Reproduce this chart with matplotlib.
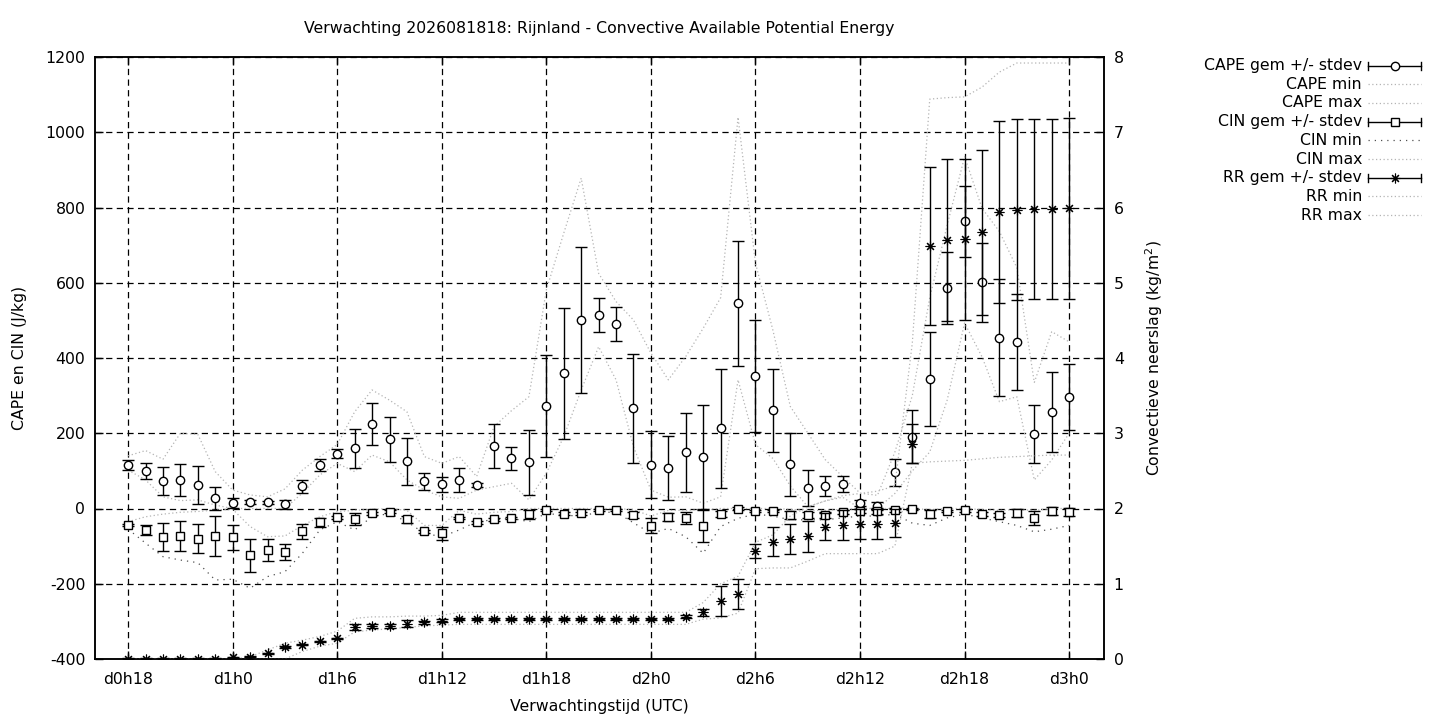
import matplotlib
matplotlib.use('Agg')
import matplotlib.pyplot as plt
from matplotlib.lines import Line2D

# uren na de start van de run (d0h18 .. d3h0)
hours = list(range(18, 73))
tick_hours = [18, 24, 30, 36, 42, 48, 54, 60, 66, 72]
tick_labels = ['d0h18', 'd1h0', 'd1h6', 'd1h12', 'd1h18', 'd2h0', 'd2h6', 'd2h12', 'd2h18', 'd3h0']

cape_mean = [115, 100, 73, 76, 62, 27, 14, 18, 16, 11, 59, 116, 145, 160, 224, 184, 125, 72, 64, 76,
             62, 166, 133, 123, 272, 359, 501, 514, 490, 266, 116, 107, 149, 136, 213, 545, 352, 261,
             117, 54, 60, 65, 14, 7, 96, 191, 343, 586, 763, 601, 454, 442, 198, 257, 296]
cape_std = [13, 21, 38, 43, 50, 30, 13, 5, 5, 11, 18, 16, 12, 52, 56, 60, 62, 23, 21, 32,
            6, 58, 30, 86, 136, 175, 195, 46, 45, 145, 89, 85, 106, 139, 158, 166, 150, 110,
            84, 47, 26, 21, 8, 10, 35, 70, 125, 96, 94, 105, 156, 127, 78, 106, 88]
cape_min = [102, 76, 31, 21, 23, 9, 0, 0, 0, 0, 41, 89, 120, 98, 142, 124, 76, 49, 31, 27,
            49, 58, 67, 23, 94, 191, 315, 430, 342, 164, 49, 30, 31, 14, 31, 342, 170, 133,
            60, 5, 20, 30, 0, 0, 40, 100, 150, 288, 493, 403, 284, 297, 76, 129, 200]
cape_max = [140, 154, 131, 200, 197, 98, 49, 36, 31, 52, 102, 138, 170, 257, 315, 288, 257, 138, 120, 138,
            85, 218, 260, 297, 581, 732, 878, 625, 550, 501, 413, 342, 404, 479, 560, 1040, 652, 474,
            271, 201, 130, 85, 41, 35, 150, 300, 560, 753, 935, 798, 736, 640, 335, 470, 443]

cin_mean = [-44, -57, -76, -73, -80, -73, -77, -124, -110, -116, -60, -36, -23, -29, -13, -8, -29, -60, -66, -26,
            -37, -29, -26, -15, -4, -14, -13, -4, -4, -17, -46, -23, -25, -46, -15, 0, -7, -7,
            -17, -17, -17, -10, -7, -7, -3, -1, -15, -7, -5, -14, -17, -12, -25, -7, -9]
cin_std = [3, 13, 38, 39, 38, 54, 33, 44, 30, 22, 20, 12, 4, 16, 3, 3, 10, 4, 18, 3,
           3, 3, 3, 12, 3, 4, 3, 3, 3, 8, 20, 11, 16, 44, 8, 3, 3, 3,
           10, 8, 8, 5, 6, 8, 5, 3, 10, 3, 3, 5, 5, 10, 18, 10, 10]
cin_min = [-55, -92, -128, -137, -144, -190, -188, -212, -181, -168, -119, -57, -35, -57, -22, -13, -35, -66, -75, -57,
           -35, -30, -26, -35, -13, -18, -20, -10, -10, -38, -66, -53, -75, -119, -48, -26, -15, -20,
           -30, -30, -30, -25, -20, -20, -15, -39, -45, -25, -15, -25, -35, -45, -62, -55, -45]
cin_max = [-35, -22, -15, -10, -8, -4, -2, -48, -75, -73, -45, -22, -8, -5, -2, 0, -5, -45, -45, -5,
           -15, -10, -8, 0, 0, 0, 0, 0, 0, -3, -20, -5, -5, -3, 0, 0, 0, 0,
           -2, -5, -5, -2, 0, 0, 0, 0, -3, 0, 0, -3, -5, -3, -5, 0, 0]

rr_mean = [0, 0, 0, 0, 0, 0, 0.02, 0.03, 0.075, 0.16, 0.19, 0.235, 0.275, 0.42, 0.44, 0.44, 0.47, 0.49, 0.51, 0.53,
           0.53, 0.53, 0.53, 0.53, 0.53, 0.53, 0.53, 0.53, 0.53, 0.53, 0.53, 0.53, 0.56, 0.62, 0.77, 0.86, 1.435, 1.56,
           1.59, 1.63, 1.76, 1.78, 1.79, 1.79, 1.81, 2.86, 5.49, 5.57, 5.58, 5.67, 5.94, 5.97, 5.98, 5.98, 5.99]
rr_std = [0.01, 0.01, 0.01, 0.01, 0.01, 0.01, 0.01, 0.01, 0.01, 0.01, 0.01, 0.01, 0.01, 0.04, 0.03, 0.03, 0.05, 0.02, 0.02, 0.01,
          0.01, 0.01, 0.01, 0.01, 0.01, 0.01, 0.01, 0.01, 0.01, 0.01, 0.01, 0.01, 0.02, 0.05, 0.2, 0.2, 0.09, 0.19,
          0.2, 0.21, 0.18, 0.2, 0.2, 0.2, 0.19, 0.26, 1.05, 1.08, 1.07, 1.1, 1.21, 1.2, 1.2, 1.2, 1.2]
rr_min = [0, 0, 0, 0, 0, 0, 0, 0, 0, 0, 0.1, 0.17, 0.21, 0.36, 0.385, 0.4, 0.42, 0.44, 0.45, 0.46,
          0.46, 0.46, 0.46, 0.46, 0.46, 0.46, 0.46, 0.46, 0.46, 0.46, 0.46, 0.46, 0.46, 0.53, 0.545, 0.61, 1.2, 1.21,
          1.21, 1.3, 1.4, 1.4, 1.4, 1.4, 1.5, 2.6, 2.62, 2.63, 2.64, 2.66, 2.68, 2.69, 2.7, 2.71, 2.71]
rr_max = [0, 0, 0, 0, 0, 0, 0, 0.03, 0.12, 0.21, 0.25, 0.3, 0.37, 0.54, 0.56, 0.56, 0.57, 0.57, 0.58, 0.62,
          0.62, 0.62, 0.62, 0.62, 0.62, 0.62, 0.62, 0.62, 0.62, 0.62, 0.62, 0.62, 0.62, 0.75, 1.0, 1.1, 1.55, 1.65,
          1.9, 2.02, 2.1, 2.17, 2.2, 2.23, 2.3, 4.2, 7.44, 7.46, 7.47, 7.6, 7.8, 7.92, 7.92, 7.92, 7.92]

title = 'Verwachting 2026081818: Rijnland - Convective Available Potential Energy'
FS = 11.3
LIGHT = '#b4b4b4'
DARK = '#505050'
light_dots = (0, (1, 2))
dark_dots = (0, (1, 4))
STAR = (8, 2, 0)

plt.rcParams['font.family'] = ['DejaVu Sans']
plt.rcParams['axes.unicode_minus'] = False
fig = plt.figure(figsize=(14.4, 7.2), dpi=100)
ax = fig.add_axes([95 / 1440, 1 - 659 / 720, (1104 - 95) / 1440, (659 - 57) / 720])
ax2 = ax.twinx()

# min/max lijnen
ax.plot(hours, cape_min, color=LIGHT, lw=0.9, ls=light_dots)
ax.plot(hours, cape_max, color=LIGHT, lw=0.9, ls=light_dots)
ax.plot(hours, cin_min, color=DARK, lw=0.9, ls=dark_dots)
ax.plot(hours, cin_max, color=LIGHT, lw=0.9, ls=light_dots)
ax2.plot(hours, rr_min, color=LIGHT, lw=0.9, ls=light_dots)
ax2.plot(hours, rr_max, color=LIGHT, lw=0.9, ls=light_dots)

ebkw = dict(ecolor='black', elinewidth=1.0, capsize=4.3, capthick=1.0, color='black', mec='black', lw=0)
ax.errorbar(hours, cape_mean, yerr=cape_std, fmt='o', mfc='white', ms=6, **ebkw)
ax.errorbar(hours, cin_mean, yerr=cin_std, fmt='s', mfc='white', ms=5.5, **ebkw)
ax2.errorbar(hours, rr_mean, yerr=rr_std, fmt='none', **ebkw)
ax2.plot(hours, rr_mean, ls='none', marker=STAR, ms=7, mec='black', mew=0.8)

ax.set_xlim(16.1, 74.0)
ax.set_ylim(-400, 1200)
ax2.set_ylim(0, 8)
ax.set_xticks(tick_hours)
ax.set_xticklabels(tick_labels)
ax.set_yticks(range(-400, 1201, 200))
ax2.set_yticks(range(0, 9))

ax.grid(True, color='black', lw=0.9, ls=(0, (5, 3.5)))
ax.set_axisbelow(True)
ax.tick_params(direction='in', length=6, width=1, labelsize=FS, top=True, right=False, pad=7)
ax.tick_params(axis='x', pad=9)
ax2.tick_params(direction='in', length=6, width=1, labelsize=FS, pad=7)
for a in (ax, ax2):
    for s in a.spines.values():
        s.set_linewidth(1.1)

ax.set_xlabel('Verwachtingstijd (UTC)', fontsize=FS, labelpad=9)
ax.set_ylabel('CAPE en CIN (J/kg)', fontsize=FS, labelpad=13)
ax2.set_ylabel('Convectieve neerslag (kg/m$^2$)', fontsize=FS, labelpad=14)
fig.text(599 / 1440, 1 - 29 / 720, title, ha='center', va='center', fontsize=FS)

# legenda rechtsboven, buiten de grafiek
entries = [
    ('CAPE gem +/- stdev', 'err', 'o'),
    ('CAPE min', 'line', LIGHT),
    ('CAPE max', 'line', LIGHT),
    ('CIN gem +/- stdev', 'err', 's'),
    ('CIN min', 'dark', DARK),
    ('CIN max', 'line', LIGHT),
    ('RR gem +/- stdev', 'err', STAR),
    ('RR min', 'line', LIGHT),
    ('RR max', 'line', LIGHT),
]
x_text, x0, x1 = 1362, 1368, 1421
for i, (label, kind, style) in enumerate(entries):
    py = 65.5 + i * 18.7
    fy = 1 - py / 720
    fig.text(x_text / 1440, fy, label, ha='right', va='center', fontsize=FS)
    if kind == 'err':
        fig.add_artist(Line2D([x0 / 1440, x1 / 1440], [fy, fy], color='black', lw=1.0))
        for xc in (x0, x1):
            fig.add_artist(Line2D([xc / 1440, xc / 1440], [fy - 4 / 720, fy + 4 / 720], color='black', lw=1.0))
        if style == STAR:
            fig.add_artist(Line2D([(x0 + x1) / 2 / 1440], [fy], marker=STAR, ms=7, mec='black', mew=0.8, ls='none'))
        else:
            fig.add_artist(Line2D([(x0 + x1) / 2 / 1440], [fy], marker=style, ms=6 if style == 'o' else 5.5,
                                  mfc='white', mec='black', mew=1.0, ls='none'))
    else:
        ls = dark_dots if kind == 'dark' else light_dots
        fig.add_artist(Line2D([x0 / 1440, x1 / 1440], [fy, fy], color=style, lw=0.9, ls=ls))

fig.savefig('out.png', dpi=100)
